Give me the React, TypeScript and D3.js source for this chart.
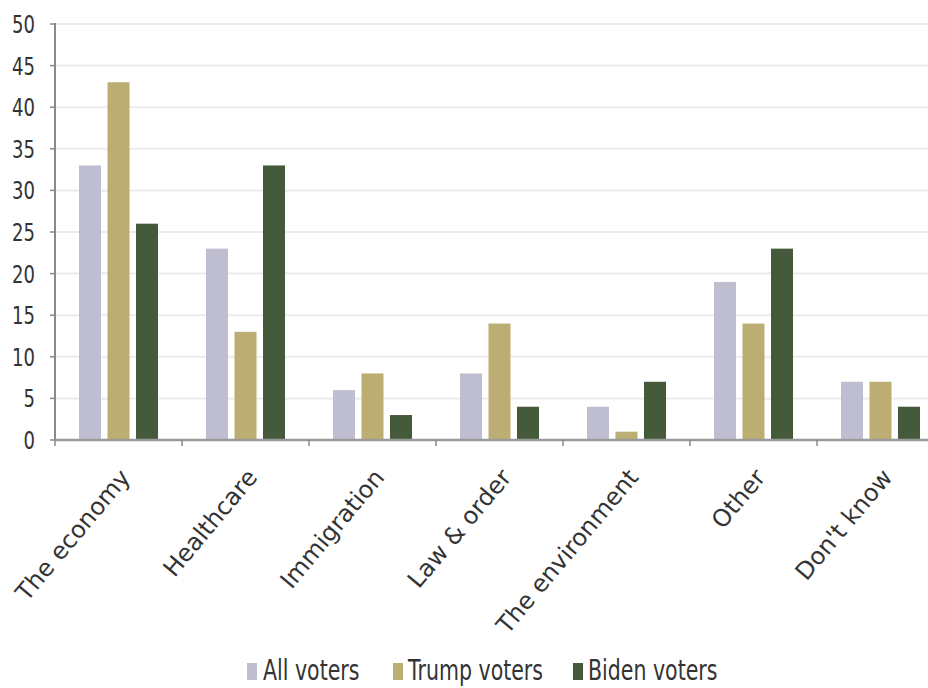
import React from "react";
import * as d3 from "d3";

const categories = ["The economy", "Healthcare", "Immigration", "Law & order", "The environment", "Other", "Don't know"];
const seriesNames = ["All voters", "Trump voters", "Biden voters"];
const allVoters = [33, 23, 6, 8, 4, 19, 7];
const trumpVoters = [43, 13, 8, 14, 1, 14, 7];
const bidenVoters = [26, 33, 3, 4, 7, 23, 4];
const colors = ["#bfbed0", "#bcae72", "#45593b"];
const yTicks = [0, 5, 10, 15, 20, 25, 30, 35, 40, 45, 50];

const W = 928;
const H = 688;
const left = 55;
const bottom = 440;
const top = 24;
const FONT = "'DejaVu Sans', sans-serif";

export default function App() {
  const series = [allVoters, trumpVoters, bidenVoters];
  const x = d3.scaleBand<string>().domain(categories).range([left, left + 127 * 7]).paddingInner(0).paddingOuter(0);
  const xs = d3.scaleBand<string>().domain(seriesNames).range([0, x.bandwidth()]).paddingInner(0.228).paddingOuter(0.842);
  const y = d3.scaleLinear().domain([0, 50]).range([bottom, top]);
  const boundaries = categories.map((c) => x(c) as number).concat([left + 127 * 7]);

  const legendItems = [
    { sq: 247, tx: 263 },
    { sq: 393, tx: 408 },
    { sq: 573, tx: 588 },
  ];

  return (
    <svg width={W} height={H} style={{ position: "absolute", left: 0, top: 0, background: "#fff" }}>
      {yTicks.filter((t) => t > 0).map((t) => (
        <line key={"g" + t} x1={left} x2={W} y1={y(t)} y2={y(t)} stroke="#ececec" strokeWidth={2} />
      ))}
      {series.map((vals, si) =>
        categories.map((c, ci) => (
          <rect
            key={si + "-" + ci}
            x={(x(c) as number) + (xs(seriesNames[si]) as number)}
            width={xs.bandwidth()}
            y={y(vals[ci])}
            height={bottom - y(vals[ci])}
            fill={colors[si]}
          />
        ))
      )}
      <line x1={left} x2={left} y1={top - 1} y2={bottom} stroke="#8a8a8a" strokeWidth={2} />
      <line x1={left} x2={W} y1={bottom} y2={bottom} stroke="#9a9a9a" strokeWidth={2.5} />
      {yTicks.map((t) => (
        <g key={"t" + t}>
          <line x1={left - 5} x2={left} y1={y(t)} y2={y(t)} stroke="#8a8a8a" strokeWidth={1.5} />
          <text
            transform={`translate(35,${y(t)}) scale(0.72,1)`}
            dy="0.36em"
            textAnchor="end"
            fontFamily={FONT}
            fontSize={25}
            fill="#333"
          >
            {t}
          </text>
        </g>
      ))}
      {boundaries.map((b, i) => (
        <line key={"b" + i} x1={b} x2={b} y1={bottom} y2={bottom + 6} stroke="#8a8a8a" strokeWidth={1.5} />
      ))}
      {categories.map((c) => {
        const cx = (x(c) as number) + x.bandwidth() / 2 + 13;
        return (
          <text
            key={"l" + c}
            transform={`translate(${cx},${478}) rotate(-50)`}
            textAnchor="end"
            fontFamily={FONT}
            fontSize={24}
            fill="#333"
          >
            {c}
          </text>
        );
      })}
      {seriesNames.map((s, i) => (
        <g key={"lg" + s}>
          <rect x={legendItems[i].sq} y={663} width={10} height={17} fill={colors[i]} />
          <text
            transform={`translate(${legendItems[i].tx},680) scale(0.72,1)`}
            fontFamily={FONT}
            fontSize={28.5}
            fill="#333"
          >
            {s}
          </text>
        </g>
      ))}
    </svg>
  );
}
